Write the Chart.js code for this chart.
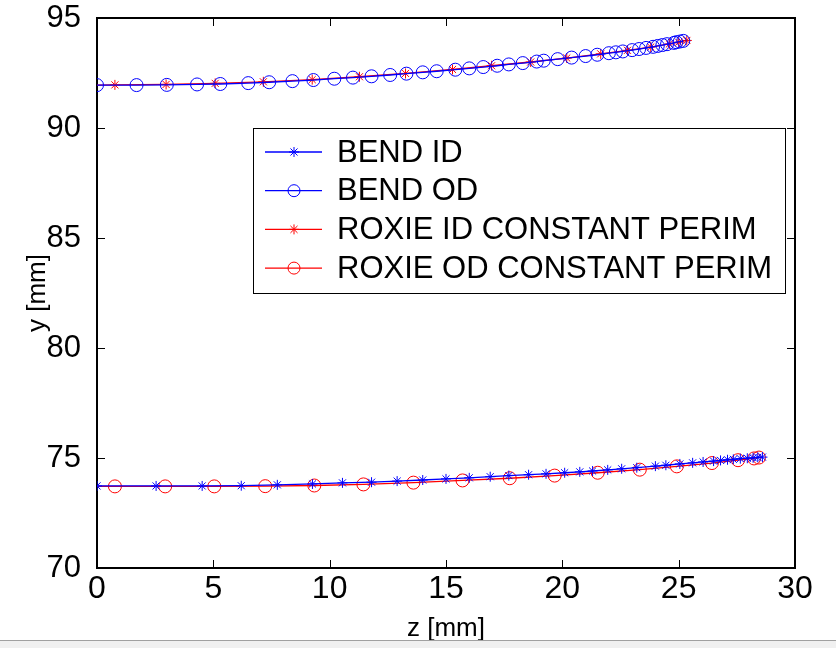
<!DOCTYPE html>
<html>
<head>
<meta charset="utf-8">
<script src="https://cdn.jsdelivr.net/npm/chart.js"></script>
<style>
  body { margin: 0; background: #fff; }
  #wrap { position: relative; width: 836px; height: 648px; overflow: hidden; }
  #bar { position: absolute; left: 0; top: 640px; width: 836px; height: 8px; background: #f0f0f0; border-top: 1px solid #a0a0a0; }
</style>
</head>
<body>
<div id="wrap">
  <canvas id="chart-bend" width="836" height="648"></canvas>
  <div id="bar"></div>
</div>
<script>
// values (z and y in mm)
var bendIdZ = [0, 2.54, 4.52, 6.2, 7.75, 9.26, 10.55, 11.8, 12.9, 14.0, 15.0, 16.0, 16.9, 17.7, 18.55, 19.3, 20.1, 20.75, 21.3, 21.95, 22.55, 23.2, 24.0, 24.45, 25.05, 25.6, 26.05, 26.5, 26.8, 27.1, 27.35, 27.65, 27.95, 28.2, 28.4, 28.6];
var bendIdY = [73.73, 73.73, 73.73, 73.74, 73.78, 73.82, 73.87, 73.9, 73.95, 74.0, 74.05, 74.1, 74.15, 74.2, 74.24, 74.28, 74.33, 74.37, 74.41, 74.46, 74.51, 74.56, 74.63, 74.67, 74.73, 74.78, 74.82, 74.86, 74.89, 74.92, 74.94, 74.97, 74.99, 75.01, 75.03, 75.04];

var bendOdZ = [0, 1.7, 3.0, 4.3, 5.3, 6.5, 7.4, 8.4, 9.3, 10.2, 11.0, 11.8, 12.6, 13.3, 14.0, 14.6, 15.4, 16.0, 16.6, 17.2, 17.7, 18.3, 18.9, 19.2, 19.8, 20.4, 21.0, 21.5, 22.0, 22.3, 22.6, 23.0, 23.3, 23.6, 23.9, 24.1, 24.3, 24.5, 24.8, 24.9, 25.05, 25.2];
var bendOdY = [91.95, 91.95, 91.96, 91.98, 92.0, 92.04, 92.08, 92.13, 92.18, 92.24, 92.29, 92.35, 92.41, 92.47, 92.53, 92.58, 92.65, 92.71, 92.77, 92.83, 92.89, 92.95, 93.02, 93.06, 93.13, 93.2, 93.27, 93.33, 93.4, 93.44, 93.48, 93.54, 93.59, 93.64, 93.69, 93.73, 93.77, 93.81, 93.87, 93.9, 93.93, 93.96];

var roxieIdZ = [0, 0.77, 2.97, 5.08, 7.15, 9.25, 11.28, 13.26, 15.28, 16.96, 18.64, 20.19, 21.65, 22.8, 23.8, 24.6, 25.0, 25.35];
var roxieIdY = [91.95, 91.96, 91.98, 92.03, 92.1, 92.2, 92.33, 92.48, 92.66, 92.83, 93.0, 93.18, 93.37, 93.53, 93.68, 93.82, 93.9, 93.98];

var roxieOdZ = [0, 0.77, 2.93, 5.04, 7.23, 9.34, 11.45, 13.6, 15.71, 17.74, 19.67, 21.52, 23.33, 24.92, 26.43, 27.55, 28.24, 28.45];
var roxieOdY = [73.71, 73.71, 73.71, 73.71, 73.72, 73.75, 73.8, 73.88, 73.98, 74.08, 74.2, 74.33, 74.47, 74.62, 74.77, 74.9, 74.98, 75.02];

var seriesNames = ['BEND ID', 'BEND OD', 'ROXIE ID CONSTANT PERIM', 'ROXIE OD CONSTANT PERIM'];
var xTicks = [0, 5, 10, 15, 20, 25, 30];
var yTicks = [70, 75, 80, 85, 90, 95];

var FONT = '"Liberation Sans", Arial, sans-serif';

function toPoints(zs, ys) {
  var pts = [];
  for (var i = 0; i < zs.length; i++) {
    pts.push({x: zs[i], y: ys[i]});
  }
  return pts;
}

// draws a matlab-like marker ('*' or 'o')
function drawMarker(ctx, style, x, y, r, color) {
  ctx.save();
  ctx.strokeStyle = color;
  ctx.lineWidth = 1;
  ctx.beginPath();
  if (style == 'circle') {
    ctx.arc(x, y, r, 0, Math.PI * 2);
  } else {
    var d = r * 0.707;
    ctx.moveTo(x - r, y); ctx.lineTo(x + r, y);
    ctx.moveTo(x, y - r); ctx.lineTo(x, y + r);
    ctx.moveTo(x - d, y - d); ctx.lineTo(x + d, y + d);
    ctx.moveTo(x - d, y + d); ctx.lineTo(x + d, y - d);
  }
  ctx.stroke();
  ctx.restore();
}

// the first roxie point only starts the line, it has no marker
function hideFirst(r) {
  return function(c) { return c.dataIndex == 0 ? 0 : r; };
}

var datasets = [{
  label: seriesNames[0],
  data: toPoints(bendIdZ, bendIdY),
  borderColor: '#0000ff',
  pointStyle: 'star',
  pointRadius: 5
}, {
  label: seriesNames[1],
  data: toPoints(bendOdZ, bendOdY),
  borderColor: '#0000ff',
  pointStyle: 'circle',
  pointRadius: 6.5
}, {
  label: seriesNames[2],
  data: toPoints(roxieIdZ, roxieIdY),
  borderColor: '#ff0000',
  pointStyle: 'star',
  pointRadius: hideFirst(5)
}, {
  label: seriesNames[3],
  data: toPoints(roxieOdZ, roxieOdY),
  borderColor: '#ff0000',
  pointStyle: 'circle',
  pointRadius: hideFirst(6.5)
}];

datasets.forEach(function(ds) {
  ds.showLine = true;
  ds.borderWidth = 1.3;
  ds.backgroundColor = 'rgba(0,0,0,0)';
  ds.pointBorderColor = ds.borderColor;
  ds.pointBorderWidth = 1;
  ds.pointHoverRadius = ds.pointRadius;
  ds.tension = 0;
});

// box with inward ticks on all four sides
var boxPlugin = {
  id: 'matlabBox',
  beforeDatasetsDraw: function(chart) {
    var ctx = chart.ctx;
    var a = chart.chartArea;
    var xs = chart.scales.x;
    var ys = chart.scales.y;
    var len = 8;
    ctx.save();
    ctx.strokeStyle = '#000';
    ctx.lineWidth = 1;
    ctx.beginPath();
    xTicks.forEach(function(t) {
      var px = Math.round(xs.getPixelForValue(t)) + 0.5;
      ctx.moveTo(px, a.bottom); ctx.lineTo(px, a.bottom - len);
      ctx.moveTo(px, a.top); ctx.lineTo(px, a.top + len);
    });
    yTicks.forEach(function(t) {
      var py = Math.round(ys.getPixelForValue(t)) + 0.5;
      ctx.moveTo(a.left, py); ctx.lineTo(a.left + len, py);
      ctx.moveTo(a.right, py); ctx.lineTo(a.right - len, py);
    });
    ctx.stroke();
    ctx.lineWidth = 2;
    ctx.strokeRect(a.left, a.top, a.right - a.left, a.bottom - a.top);
    ctx.restore();
  }
};

// legend box drawn inside the axes like matlab does
var legendPlugin = {
  id: 'matlabLegend',
  afterDatasetsDraw: function(chart) {
    var ctx = chart.ctx;
    var bx = 253, by = 128, bw = 532, bh = 165;
    ctx.save();
    ctx.fillStyle = '#fff';
    ctx.fillRect(bx, by, bw, bh);
    ctx.strokeStyle = '#000';
    ctx.lineWidth = 1;
    ctx.strokeRect(bx + 0.5, by + 0.5, bw, bh);
    ctx.font = '31px ' + FONT;
    ctx.textBaseline = 'middle';
    ctx.fillStyle = '#000';
    for (var i = 0; i < datasets.length; i++) {
      var ds = datasets[i];
      var ry = by + 24 + i * 38.7;
      ctx.strokeStyle = ds.borderColor;
      ctx.lineWidth = 1.3;
      ctx.beginPath();
      ctx.moveTo(bx + 12, ry);
      ctx.lineTo(bx + 69, ry);
      ctx.stroke();
      drawMarker(ctx, ds.pointStyle, bx + 41, ry, ds.pointStyle == 'circle' ? 6 : 5, ds.borderColor);
      ctx.fillText(ds.label, bx + 84, ry + 1);
    }
    ctx.restore();
  }
};

// keep the plot box exactly where the reference has it
function noEdgePadding(s) {
  s.paddingTop = 0;
  s.paddingBottom = 0;
  s.paddingLeft = 0;
  s.paddingRight = 0;
}

new Chart(document.getElementById('chart-bend'), {
  type: 'scatter',
  data: { datasets: datasets },
  plugins: [boxPlugin, legendPlugin],
  options: {
    responsive: false,
    animation: false,
    layout: { padding: { left: 0, top: 18, right: 41, bottom: 0 } },
    plugins: {
      legend: { display: false },
      tooltip: { enabled: false }
    },
    scales: {
      x: {
        type: 'linear',
        min: 0,
        max: 30,
        afterFit: function(s) { s.height = 80; noEdgePadding(s); },
        afterBuildTicks: function(s) { s.ticks = xTicks.map(function(v) { return {value: v}; }); },
        grid: { display: false, drawTicks: false },
        border: { display: false },
        ticks: { color: '#000', padding: 2, font: { family: FONT, size: 32 }, maxRotation: 0 },
        title: { display: true, text: 'z [mm]', color: '#000', padding: { top: 0, bottom: 4 }, font: { family: FONT, size: 26 } }
      },
      y: {
        type: 'linear',
        min: 70,
        max: 95,
        afterFit: function(s) { s.width = 97; noEdgePadding(s); },
        afterBuildTicks: function(s) { s.ticks = yTicks.map(function(v) { return {value: v}; }); },
        grid: { display: false, drawTicks: false },
        border: { display: false },
        ticks: { color: '#000', padding: 16, font: { family: FONT, size: 31 } },
        title: { display: true, text: 'y [mm]', color: '#000', padding: { top: 22, bottom: 0 }, font: { family: FONT, size: 26 } }
      }
    }
  }
});
</script>
</body>
</html>
